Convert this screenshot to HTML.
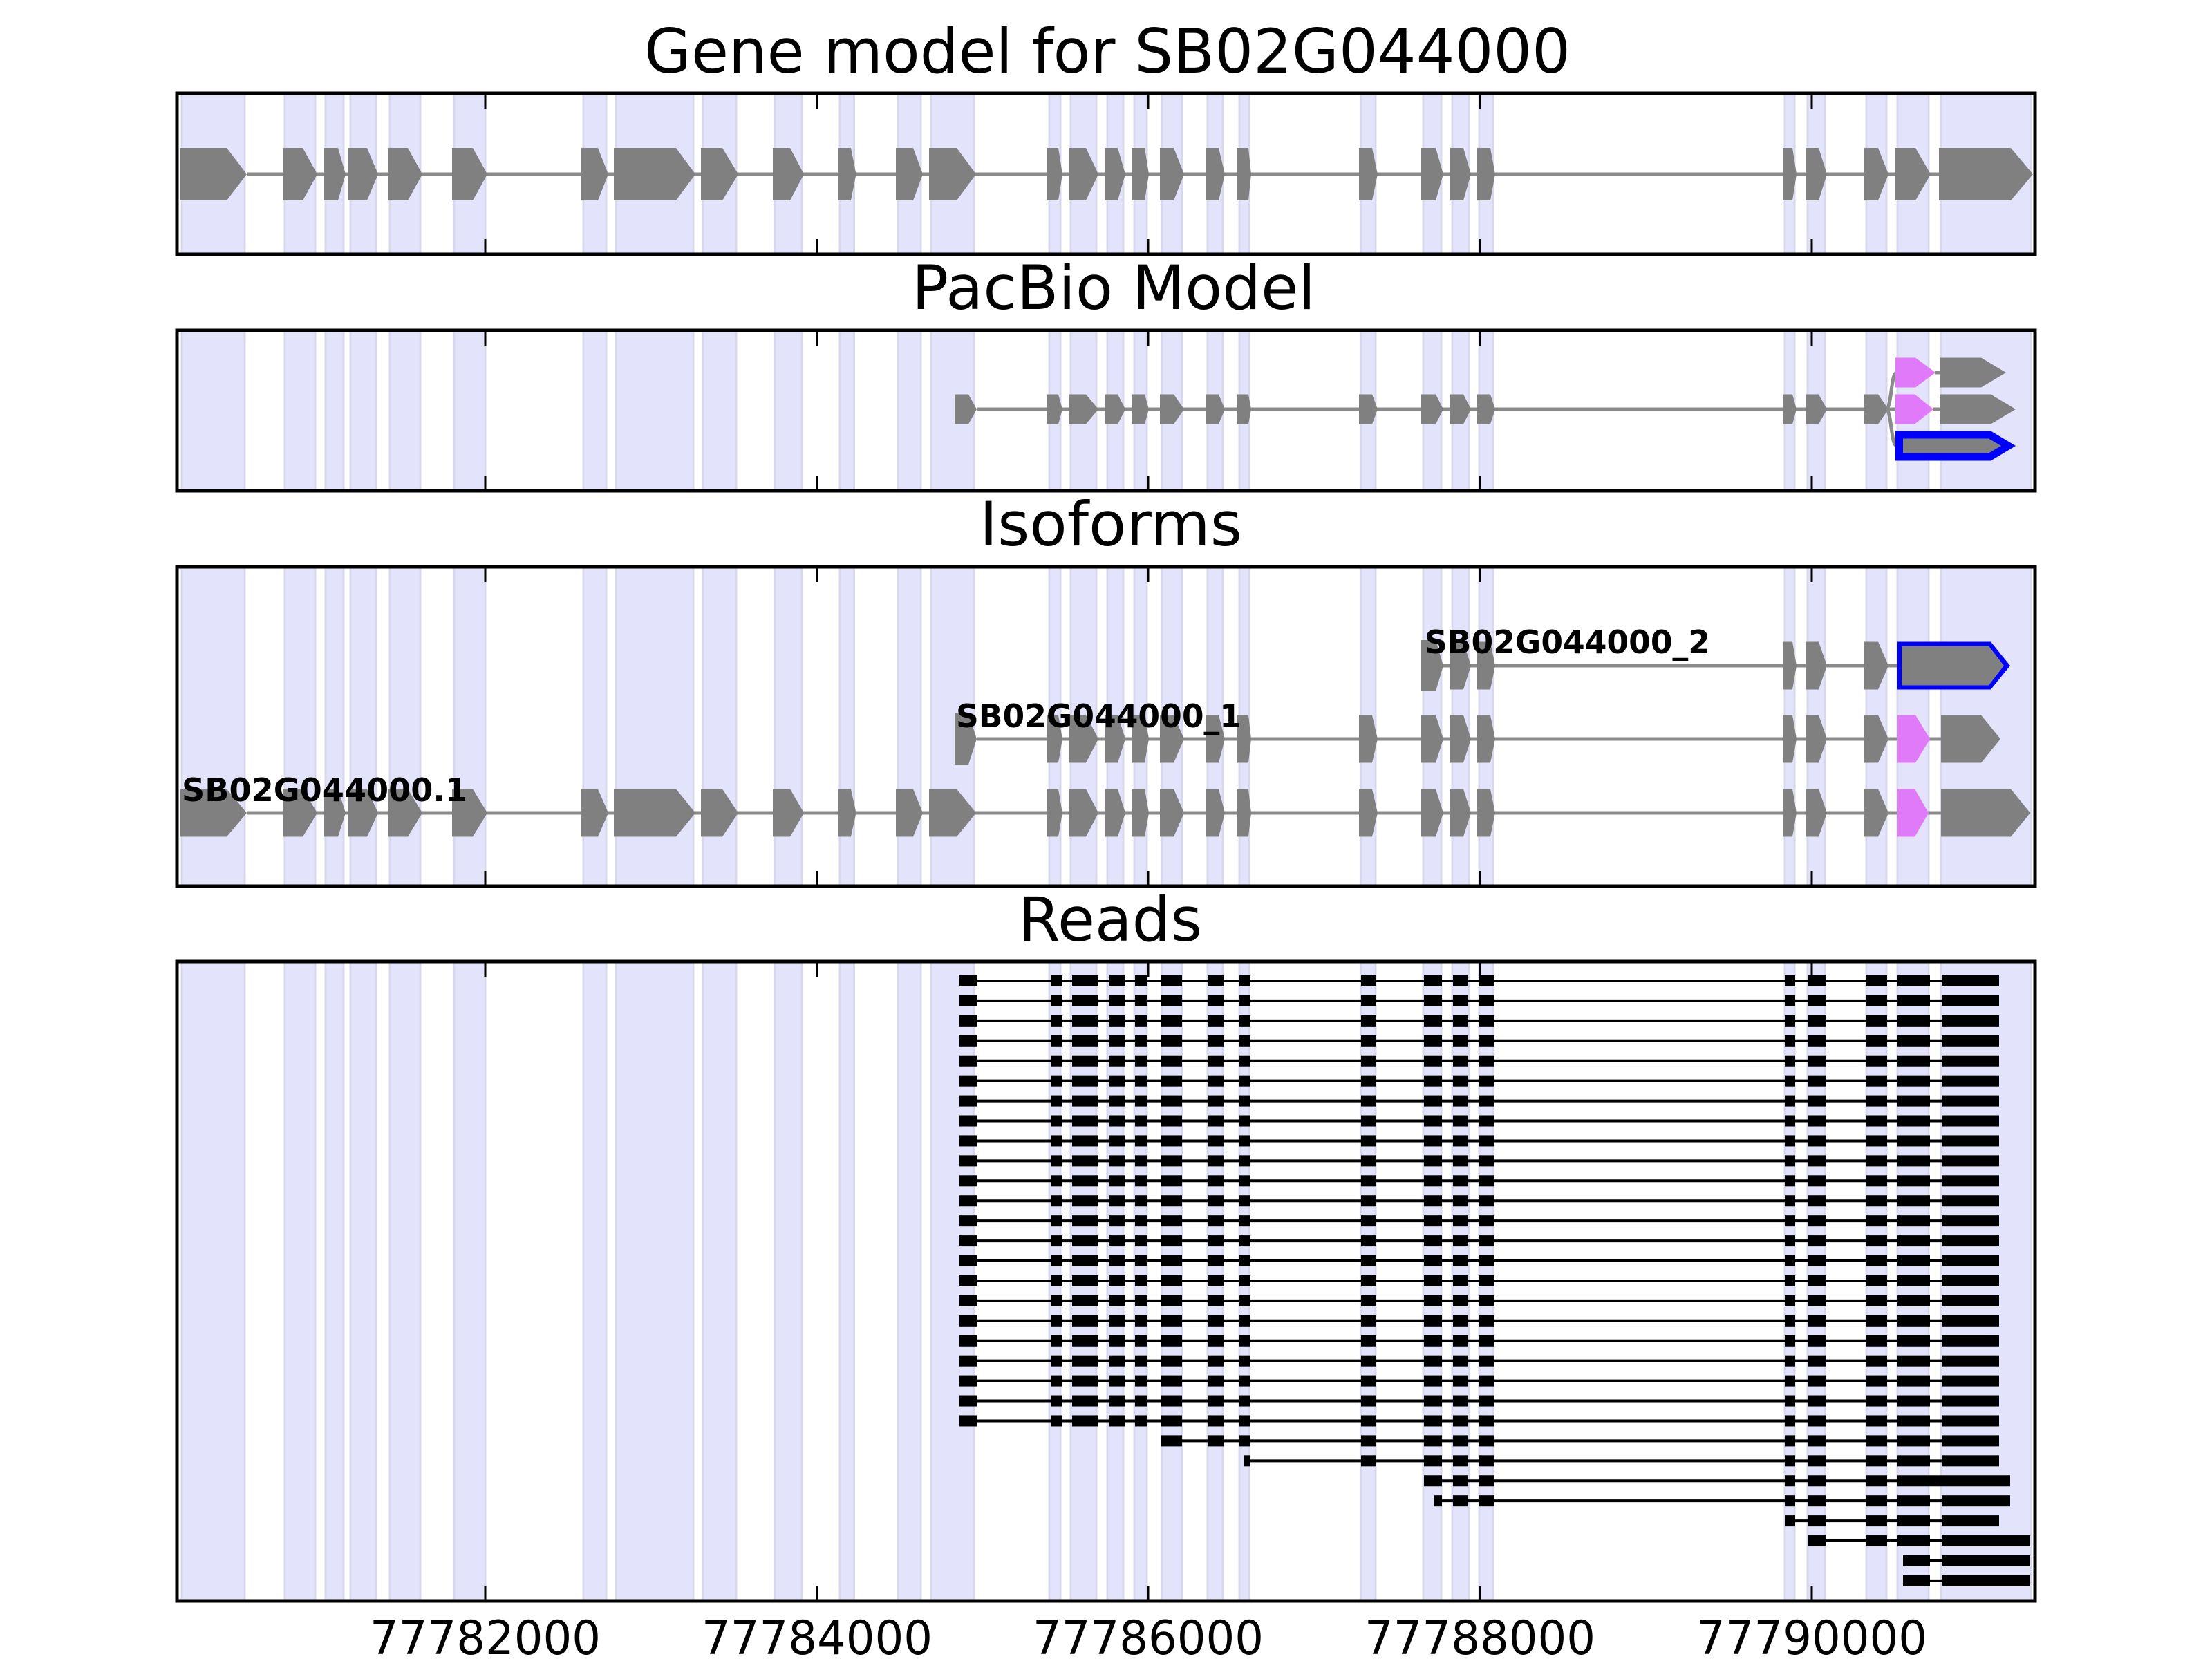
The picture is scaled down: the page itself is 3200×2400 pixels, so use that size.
<!DOCTYPE html>
<html><head><meta charset="utf-8"><style>
html,body{margin:0;padding:0;background:#fff;}
svg{display:block;}
text{font-family:"DejaVu Sans","Liberation Sans",sans-serif;}
</style></head><body>
<svg id="s" xmlns="http://www.w3.org/2000/svg" width="3200" height="2400" viewBox="0 0 3200 2400">
<rect x="0" y="0" width="3200" height="2400" fill="#fff"/>
<g id="bg"></g>
<g id="fg"></g>
<g id="frames"></g>
<text x="1602" y="105" font-size="88" text-anchor="middle" textLength="1340" lengthAdjust="spacingAndGlyphs">Gene model for SB02G044000</text>
<text x="1611" y="447" font-size="88" text-anchor="middle" textLength="584" lengthAdjust="spacingAndGlyphs">PacBio Model</text>
<text x="1607" y="789" font-size="88" text-anchor="middle" textLength="380" lengthAdjust="spacingAndGlyphs">Isoforms</text>
<text x="1606" y="1361" font-size="88" text-anchor="middle" textLength="266" lengthAdjust="spacingAndGlyphs">Reads</text>
<text x="1383" y="1052" font-size="46" font-weight="bold" textLength="413" lengthAdjust="spacingAndGlyphs">SB02G044000_1</text>
<text x="263" y="1159" font-size="46" font-weight="bold" textLength="413" lengthAdjust="spacingAndGlyphs">SB02G044000.1</text>
<text x="2061" y="945" font-size="46" font-weight="bold" textLength="413" lengthAdjust="spacingAndGlyphs">SB02G044000_2</text>
<text x="702" y="2393" font-size="68" text-anchor="middle" textLength="334" lengthAdjust="spacingAndGlyphs">77782000</text>
<text x="1182" y="2393" font-size="68" text-anchor="middle" textLength="334" lengthAdjust="spacingAndGlyphs">77784000</text>
<text x="1661" y="2393" font-size="68" text-anchor="middle" textLength="334" lengthAdjust="spacingAndGlyphs">77786000</text>
<text x="2141" y="2393" font-size="68" text-anchor="middle" textLength="334" lengthAdjust="spacingAndGlyphs">77788000</text>
<text x="2621" y="2393" font-size="68" text-anchor="middle" textLength="334" lengthAdjust="spacingAndGlyphs">77790000</text>
<g fill="none" stroke="#000" stroke-width="5">
<rect x="256" y="135" width="2688" height="233"/>
<rect x="256" y="478" width="2688" height="232"/>
<rect x="256" y="820" width="2688" height="462"/>
<rect x="256" y="1391" width="2688" height="925"/>
</g>
</svg>
<script>
(function(){
var NS="http://www.w3.org/2000/svg";
var bg=document.getElementById("bg"),fg=document.getElementById("fg"),fr=document.getElementById("frames");
function el(p,t,a){var e=document.createElementNS(NS,t);for(var k in a)e.setAttribute(k,a[k]);p.appendChild(e);return e;}
var G=[[260,328,357],[409,438,459],[468,489,500],[504,531,547],[561,590,611],[654,684,705],[841,865,880],[888,978,1006],[1014,1045,1068],[1118,1143,1163],[1212,1231,1238.5],[1296,1321,1335],[1344,1384,1412],[1515,1531,1537],[1546,1571,1589],[1599,1617,1628],[1638,1656,1662],[1678,1698,1713],[1744,1763,1772],[1790,1806,1810],[1966,1985,1993],[2056,2077,2088],[2098,2117,2128],[2137,2156,2163],[2579,2593,2599],[2612,2631,2643],[2697,2717,2732],[2742,2771,2793],[2805,2909,2941]];
var P=[[135,368],[478,710],[820,1282],[1391,2316]];
var ticks=[702,1182,1661,2141,2621];
P.forEach(function(p){
  G.forEach(function(g){
    el(bg,"rect",{x:g[0]+3,y:p[0],width:g[2]-g[0]-6,height:p[1]-p[0],fill:"#e3e3fb",stroke:"#d8d8ec","stroke-width":3});
  });
  ticks.forEach(function(t){
    el(fr,"line",{x1:t,x2:t,y1:p[0],y2:p[0]+22,stroke:"#000","stroke-width":3});
    el(fr,"line",{x1:t,x2:t,y1:p[1]-22,y2:p[1],stroke:"#000","stroke-width":3});
  });
});
function arrow(L,T,Pt,cy,h,fill){
  var t=cy-h/2,b=cy+h/2;
  el(fg,"polygon",{points:L+","+t+" "+T+","+t+" "+Pt+","+cy+" "+T+","+b+" "+L+","+b,fill:fill});
}
function line(x1,x2,y,c,w){el(fg,"line",{x1:x1,x2:x2,y1:y,y2:y,stroke:c,"stroke-width":w});}
var GR="#808080",PK="#e07af8";
line(357,2805,252,"#8a8a8a",5);
G.forEach(function(g){arrow(g[0],g[1],g[2],252,76,GR);});
var cy=592,h=43;
line(1413,2742,cy,"#8a8a8a",5);
arrow(1381,1401,1413,cy,h,GR);
for(var i=13;i<=26;i++)arrow(G[i][0],G[i][1],G[i][2],cy,h,GR);
line(2797,2806,cy,"#8a8a8a",5);
arrow(2742,2770,2797,cy,h,PK);
arrow(2806,2880,2916,cy,h,GR);
el(fg,"path",{d:"M2728,592 C2737,592 2735,539 2744,539",fill:"none",stroke:"#8a8a8a","stroke-width":5});
el(fg,"path",{d:"M2728,592 C2737,592 2735,645 2744,645",fill:"none",stroke:"#8a8a8a","stroke-width":5});
line(2800,2806,539,"#8a8a8a",5);
arrow(2742,2771,2800,539,h,PK);
arrow(2806,2866,2902,539,h,GR);
arrow(2742,2880,2916,645,43,"#0000ff");
arrow(2753,2877,2895,645,21,GR);
var ih=69;
cy=1176;
line(357,2808,cy,"#8a8a8a",5);
for(i=0;i<=26;i++)arrow(G[i][0],G[i][1],G[i][2],cy,ih,GR);
arrow(2745,2770,2790,cy,ih,PK);
arrow(2808,2909,2937,cy,ih,GR);
cy=1069;
line(1413,2808,cy,"#8a8a8a",5);
arrow(1381,1401,1413,cy,74,GR);
for(i=13;i<=26;i++)arrow(G[i][0],G[i][1],G[i][2],cy,ih,GR);
arrow(2745,2771,2792,cy,ih,PK);
arrow(2808,2866,2894,cy,ih,GR);
cy=963;
line(2088,2745,cy,"#8a8a8a",5);
arrow(2056,2077,2088,cy,74,GR);
for(i=22;i<=26;i++)arrow(G[i][0],G[i][1],G[i][2],cy,ih,GR);
arrow(2745,2880,2908,cy,ih,"#0000ff");
arrow(2751,2877,2899,cy,ih-12,GR);
var R=[[1388,1413],[1520,1537],[1551,1589],[1604,1628],[1642,1659],[1680,1710],[1747,1771],[1793,1809],[1969,1991],[2060,2086],[2102,2124],[2139,2162],[2582,2597],[2616,2641],[2700,2730],[2745,2792],[2809,2892]];
function rng(a,b){var o=[];for(var k=a;k<=b;k++)o.push(R[k]);return o;}
var rows=[];
for(i=0;i<23;i++)rows.push(rng(0,16));
rows.push(rng(5,16));
rows.push([[1800,1809]].concat(rng(8,16)));
rows.push(rng(9,14).concat([[2745,2908]]));
rows.push([[2075,2086]].concat(rng(10,15)).concat([[2809,2908]]));
rows.push(rng(12,16));
rows.push(rng(13,15).concat([[2809,2937]]));
rows.push([[2753,2792],[2809,2937]]);
rows.push([[2753,2792],[2809,2937]]);
rows.forEach(function(r,j){
  var y=1419+j*28.93;
  line(r[0][0],r[r.length-1][1],y,"#000",4);
  r.forEach(function(b){el(fg,"rect",{x:b[0],y:y-8,width:b[1]-b[0],height:16,fill:"#000"});});
});
})();
</script>
</body></html>
